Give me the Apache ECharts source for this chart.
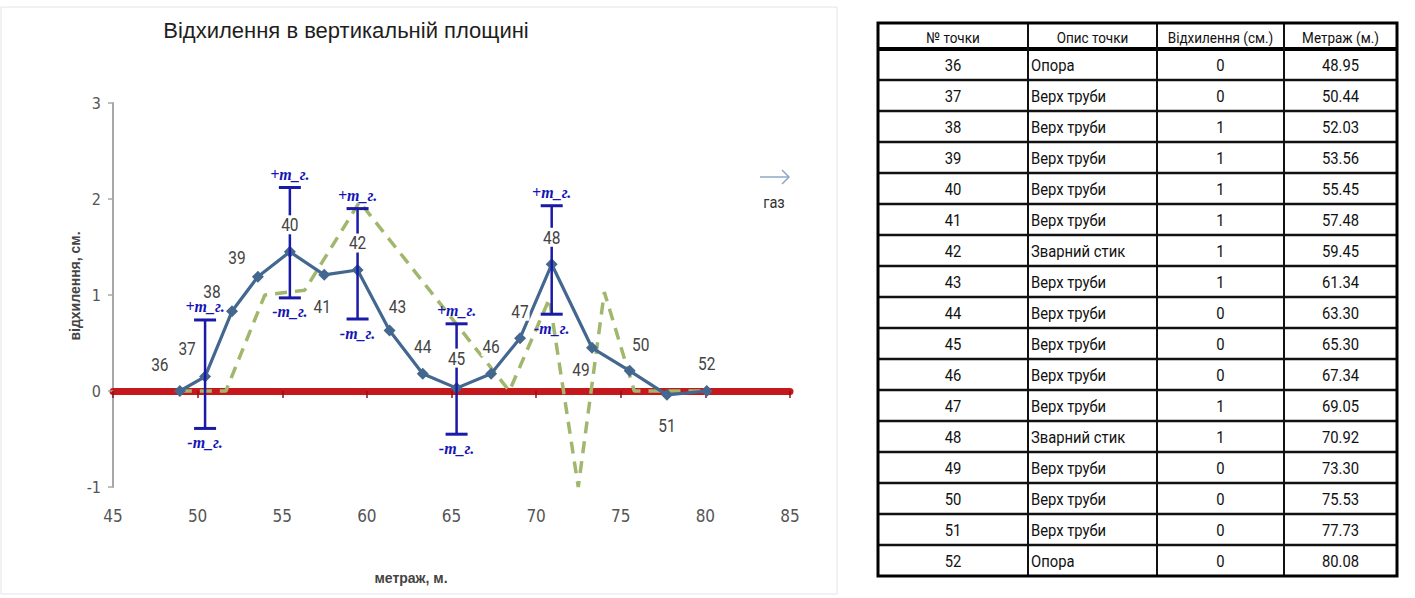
<!DOCTYPE html>
<html>
<head>
<meta charset="utf-8">
<script src="https://cdn.jsdelivr.net/npm/echarts@6/dist/echarts.min.js"></script>
<style>
  html, body { margin: 0; padding: 0; background: #ffffff; }
  #chart { width: 1415px; height: 598px; }
</style>
</head>
<body>
<div id="chart"></div>
<script>
// ---- Survey data: pipe section, points 36–52 ----
const pointNumbers = [36, 37, 38, 39, 40, 41, 42, 43, 44, 45, 46, 47, 48, 49, 50, 51, 52];
const pointDescriptions = ['Опора', 'Верх труби', 'Верх труби', 'Верх труби', 'Верх труби', 'Верх труби',
  'Зварний стик', 'Верх труби', 'Верх труби', 'Верх труби', 'Верх труби', 'Верх труби',
  'Зварний стик', 'Верх труби', 'Верх труби', 'Верх труби', 'Опора'];
const deviationCm = [0, 0, 1, 1, 1, 1, 1, 1, 0, 0, 0, 1, 1, 0, 0, 0, 0];
const chainageM = [48.95, 50.44, 52.03, 53.56, 55.45, 57.48, 59.45, 61.34, 63.30, 65.30, 67.34,
  69.05, 70.92, 73.30, 75.53, 77.73, 80.08];

// Measured vertical offset of the pipe crown at each point, cm
const measuredOffsetCm = [0, 0.15, 0.83, 1.19, 1.45, 1.21, 1.26, 0.63, 0.18, 0.03, 0.18, 0.55,
  1.32, 0.45, 0.21, -0.04, 0];

// Dashed profile line
const profileChainage = [48.95, 51.67, 53.97, 56.33, 59.57, 68.42, 70.78, 72.49, 74.03, 75.80, 80.08];
const profileOffset = [0, 0, 1.0, 1.05, 1.97, 0, 0.96, -1.0, 1.03, 0, 0];

// Error bars (±m_г) at selected points
const errorPoints = [37, 40, 42, 45, 48];
const errorLow = [-0.39, 0.97, 0.75, -0.45, 0.80];
const errorHigh = [0.74, 2.12, 1.90, 0.70, 1.93];

// Axes
const xMin = 45, xMax = 85, xStep = 5;
const yMin = -1, yMax = 3, yStep = 1;

// Texts
const chartTitle = 'Відхилення в вертикальній площині';
const xAxisTitle = 'метраж, м.';
const yAxisTitle = 'відхилення, см.';
const flowLabel = 'газ';
const errPlusText = '+m_г.';
const errMinusText = '-m_г.';
const tableHeaders = ['№ точки', 'Опис точки', 'Відхилення (см.)', 'Метраж (м.)'];

// ---- Styling ----
const NARROW = "'Liberation Sans Narrow', 'DejaVu Sans Condensed', 'Roboto Condensed', Roboto, sans-serif";
const C_LINE = '#44678f';
const C_PROFILE = '#a2b76e';
const C_ZERO = '#c5181d';
const C_ERR = '#1a1aa6';
const C_ERR_TEXT = '#1515b5';
const C_LABEL = '#444444';
const SQUEEZE = 0.86;   // horizontal condensing of label glyphs

// label offset from each point's marker (px), keyed by point number
const labelNudge = {
  36: [-20, -26], 37: [-18, -28], 38: [-20, -20], 39: [-21, -19], 40: [0, -27],
  41: [-2, 32], 42: [0, -27], 43: [8, -24], 44: [0, -27], 45: [0, -30],
  46: [0, -27], 47: [0, -27], 48: [0, -27], 49: [-11, 22], 50: [11, -26],
  51: [0, 31], 52: [0, -27]
};

// Table geometry
const colEdges = [878, 1028, 1157, 1284, 1397];
const tableTop = 23, headerH = 26, rowH = 31;

const mainData = chainageM.map((x, i) => [x, measuredOffsetCm[i]]);
const profileData = profileChainage.map((x, i) => [x, profileOffset[i]]);
const errorData = errorPoints.map((p, i) => [chainageM[pointNumbers.indexOf(p)], errorLow[i], errorHigh[i]]);

// ---- Table built as graphic elements ----
function buildTable() {
  const els = [];
  const nRows = pointNumbers.length;
  const bottom = tableTop + headerH + nRows * rowH;
  for (let r = 1; r < nRows; r++) {
    const y = tableTop + headerH + r * rowH;
    els.push({ type: 'line', shape: { x1: colEdges[0], y1: y, x2: colEdges[4], y2: y },
      style: { stroke: '#111', lineWidth: 2.5 } });
  }
  const hy = tableTop + headerH;
  els.push({ type: 'line', shape: { x1: colEdges[0], y1: hy, x2: colEdges[4], y2: hy },
    style: { stroke: '#000', lineWidth: 4 } });
  for (let c = 1; c < 4; c++) {
    els.push({ type: 'line', shape: { x1: colEdges[c], y1: tableTop, x2: colEdges[c], y2: bottom },
      style: { stroke: '#111', lineWidth: 2 } });
  }
  els.push({ type: 'rect', shape: { x: colEdges[0], y: tableTop, width: colEdges[4] - colEdges[0], height: bottom - tableTop },
    style: { fill: 'none', stroke: '#000', lineWidth: 3 } });
  tableHeaders.forEach((h, c) => {
    els.push({ type: 'text', x: (colEdges[c] + colEdges[c + 1]) / 2, y: tableTop + headerH / 2 + 2, scaleX: 0.9,
      style: { text: h, font: '15px Roboto, sans-serif', fill: '#111', align: 'center', verticalAlign: 'middle' } });
  });
  pointNumbers.forEach((p, r) => {
    const cy = tableTop + headerH + r * rowH + rowH / 2 + 1;
    const cells = [String(p), pointDescriptions[r], String(deviationCm[r]), chainageM[r].toFixed(2)];
    cells.forEach((t, c) => {
      const left = c === 1;
      els.push({ type: 'text', x: left ? colEdges[c] + 3 : (colEdges[c] + colEdges[c + 1]) / 2, y: cy, scaleX: 0.87,
        style: { text: t, font: '17px Roboto, sans-serif', fill: '#111', align: left ? 'left' : 'center', verticalAlign: 'middle' } });
    });
  });
  return els;
}

const chart = echarts.init(document.getElementById('chart'), null, { renderer: 'svg' });

chart.setOption({
  animation: false,
  backgroundColor: '#ffffff',
  grid: { left: 113, right: 625, top: 103, bottom: 111, containLabel: false },
  xAxis: [
    {
      type: 'value', min: xMin, max: xMax, interval: xStep,
      axisLine: { show: true, onZero: true, lineStyle: { color: C_ZERO, width: 7 } },
      axisTick: { show: true, length: 7, lineStyle: { color: '#8e0f12', width: 1.5 } },
      axisLabel: { show: false },
      splitLine: { show: false }
    },
    {
      type: 'value', min: xMin, max: xMax, interval: xStep, position: 'bottom',
      axisLine: { show: false, onZero: false },
      axisTick: { show: false },
      axisLabel: { show: true, margin: 20, color: '#555', fontSize: 17, fontFamily: NARROW },
      splitLine: { show: false }
    }
  ],
  yAxis: {
    type: 'value', min: yMin, max: yMax, interval: yStep,
    axisLine: { show: true, onZero: false, lineStyle: { color: '#a8a8a8', width: 2 } },
    axisTick: { show: true, length: 5, lineStyle: { color: '#a8a8a8', width: 1.5 } },
    axisLabel: { margin: 12, color: '#555', fontSize: 16, fontFamily: NARROW },
    splitLine: { show: false }
  },
  series: [
    {
      name: 'profile', type: 'line', data: profileData, z: 2,
      symbol: 'none', smooth: false,
      lineStyle: { color: C_PROFILE, width: 3.5, type: [12, 8] }
    },
    {
      name: 'measured', type: 'line', data: mainData, z: 3,
      symbol: 'diamond', symbolSize: 12,
      itemStyle: { color: C_LINE },
      lineStyle: { color: C_LINE, width: 3.2 }
    },
    {
      name: 'error', type: 'custom', data: errorData, z: 4,
      renderItem: function (params, api) {
        const x = api.value(0), lo = api.value(1), hi = api.value(2);
        const top = api.coord([x, hi]);
        const bot = api.coord([x, lo]);
        const cap = 11;
        const ef = 'italic bold 16px "Liberation Serif", serif';
        return {
          type: 'group',
          children: [
            { type: 'line', shape: { x1: top[0], y1: top[1], x2: bot[0], y2: bot[1] }, style: { stroke: C_ERR, lineWidth: 2.5 } },
            { type: 'line', shape: { x1: top[0] - cap, y1: top[1], x2: top[0] + cap, y2: top[1] }, style: { stroke: C_ERR, lineWidth: 3 } },
            { type: 'line', shape: { x1: bot[0] - cap, y1: bot[1], x2: bot[0] + cap, y2: bot[1] }, style: { stroke: C_ERR, lineWidth: 3 } },
            { type: 'text', x: top[0], y: top[1] - 13, style: { text: errPlusText, font: ef, fill: C_ERR_TEXT, align: 'center', verticalAlign: 'middle' } },
            { type: 'text', x: bot[0], y: bot[1] + 14, style: { text: errMinusText, font: ef, fill: C_ERR_TEXT, align: 'center', verticalAlign: 'middle' } }
          ]
        };
      }
    },
    {
      // point numbers, on a white plate so they interrupt the error bars
      name: 'labels', type: 'custom', data: mainData, z: 6,
      renderItem: function (params, api) {
        const pt = api.coord([api.value(0), api.value(1)]);
        const d = labelNudge[pointNumbers[params.dataIndex]];
        return {
          type: 'text', x: pt[0] + d[0], y: pt[1] + d[1], scaleX: SQUEEZE,
          style: {
            text: String(pointNumbers[params.dataIndex]),
            font: '18px Roboto, sans-serif', fill: C_LABEL,
            align: 'center', verticalAlign: 'middle',
            backgroundColor: '#ffffff', padding: [1, 1, 0, 1]
          }
        };
      }
    }
  ],
  graphic: [
    { type: 'rect', shape: { x: 1, y: 7, width: 836, height: 587 }, style: { fill: 'none', stroke: '#e4e4e4', lineWidth: 1 }, silent: true },
    { type: 'text', x: 346, y: 30, style: { text: chartTitle, font: '22px "Liberation Sans", Arial, sans-serif', fill: '#1e1e1e', align: 'center', verticalAlign: 'middle' } },
    { type: 'text', x: 75, y: 286, rotation: Math.PI / 2, style: { text: yAxisTitle, font: 'bold 14px "Liberation Sans", Arial, sans-serif', fill: '#444', align: 'center', verticalAlign: 'middle' } },
    { type: 'text', x: 411, y: 578, style: { text: xAxisTitle, font: 'bold 14px "Liberation Sans", Arial, sans-serif', fill: '#444', align: 'center', verticalAlign: 'middle' } },
    { type: 'polyline', shape: { points: [[760, 177], [789, 177]] }, style: { stroke: '#8ea8c6', lineWidth: 1.5, fill: 'none' } },
    { type: 'polyline', shape: { points: [[782, 170], [789, 177], [782, 184]] }, style: { stroke: '#8ea8c6', lineWidth: 1.5, fill: 'none' } },
    { type: 'text', x: 774, y: 202, scaleX: SQUEEZE, style: { text: flowLabel, font: '17px Roboto, sans-serif', fill: '#333', align: 'center', verticalAlign: 'middle' } },
    { type: 'group', children: buildTable() }
  ]
});
</script>
</body>
</html>
